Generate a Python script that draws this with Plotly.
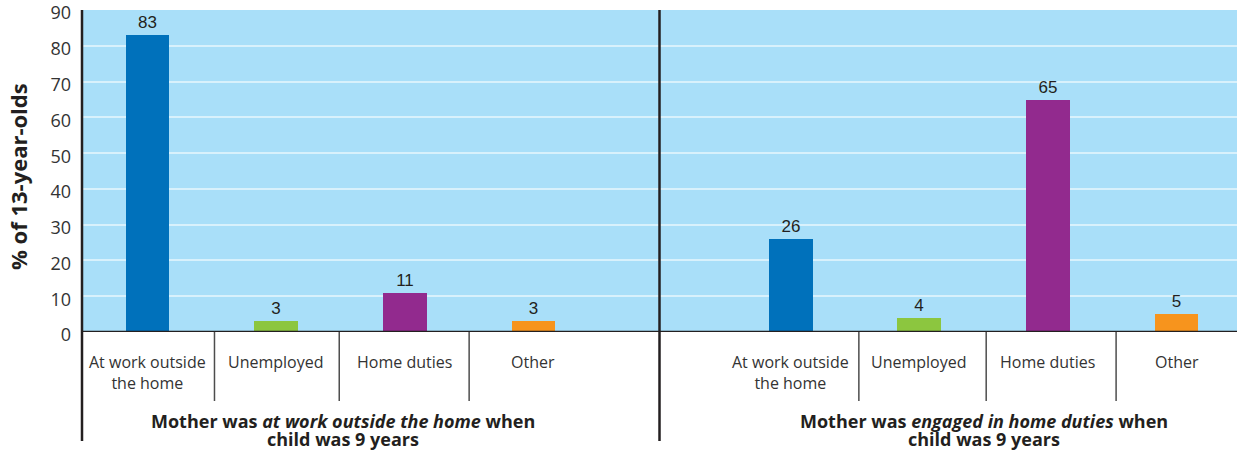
import plotly.graph_objects as go

# data
categories = ["At work outside<br>the home", "Unemployed", "Home duties", "Other"]
work_group = [83, 3, 11, 3]
home_group = [26, 4, 65, 5]
group_titles = [
    ["Mother was <i>at work outside the home</i> when", "child was 9 years"],
    ["Mother was <i>engaged in home duties</i> when", "child was 9 years"],
]
bar_colors = ["#0071bb", "#8cc63f", "#922a8e", "#f7941d"]
y_ticks = [0, 10, 20, 30, 40, 50, 60, 70, 80, 90]

left_pos = [0, 1, 2, 3]
right_pos = [5, 6, 7, 8]

W, H = 1237, 450
M_L, M_R, M_T, M_B = 82, 0, 10, 118
plot_h = H - M_T - M_B
plot_w = W - M_L - M_R


def py(px):
    # pixel y (from top) -> paper coordinate
    return (H - M_B - px) / plot_h


def pxx(px):
    return (px - M_L) / plot_w


text_color = "#231f20"

fig = go.Figure()
for pos, vals in [(left_pos, work_group), (right_pos, home_group)]:
    fig.add_trace(
        go.Bar(
            x=pos, y=vals, width=0.34,
            marker=dict(color=bar_colors, line=dict(width=0)),
            text=[str(v) for v in vals], textposition="outside",
            textfont=dict(family="Liberation Sans, Arial, sans-serif", size=17, color=text_color),
            cliponaxis=False, showlegend=False,
        )
    )

shapes = []
# zero line
shapes.append(dict(type="line", xref="paper", yref="y", x0=0, x1=1, y0=0, y1=0,
                   line=dict(color=text_color, width=2.5)))
# left axis line
shapes.append(dict(type="line", xref="paper", yref="paper", x0=0, x1=0, y0=1, y1=py(441),
                   line=dict(color=text_color, width=2.5)))
# group separator
shapes.append(dict(type="line", xref="x", yref="paper", x0=3.98, x1=3.98, y0=1, y1=py(441),
                   line=dict(color=text_color, width=2.5)))
# category separators
for sx in [0.52, 1.49, 2.5, 5.53, 6.52, 7.53]:
    shapes.append(dict(type="line", xref="x", yref="paper", x0=sx, x1=sx, y0=0, y1=py(401),
                       line=dict(color="#4d4d4d", width=1.5)))

annotations = []
for pos in (left_pos, right_pos):
    for p, c in zip(pos, categories):
        annotations.append(dict(
            x=p, y=py(349), xref="x", yref="paper", text=c, showarrow=False,
            xanchor="center", yanchor="top",
            font=dict(family="Open Sans, sans-serif", size=16, color="#333333"),
        ))
for gx, lines in zip([pxx(343), pxx(984)], group_titles):
    for yy, line in zip([421, 438.5], lines):
        annotations.append(dict(
            x=gx, y=py(yy), xref="paper", yref="paper", text="<b>" + line + "</b>",
            showarrow=False, xanchor="center", yanchor="middle",
            font=dict(family="Open Sans, sans-serif", size=18, color=text_color),
        ))
annotations.append(dict(
    x=pxx(18), y=py(177), xref="paper", yref="paper",
    text="<b>% of 13-year-olds</b>", showarrow=False, textangle=-90,
    xanchor="center", yanchor="middle",
    font=dict(family="Open Sans, sans-serif", size=22, color=text_color),
))

fig.update_layout(
    width=W, height=H,
    margin=dict(l=M_L, r=M_R, t=M_T, b=M_B),
    paper_bgcolor="white",
    plot_bgcolor="#a9dff9",
    bargap=0,
    xaxis=dict(range=[-0.51, 8.47], showticklabels=False, showgrid=False, zeroline=False,
               fixedrange=True, automargin=False),
    yaxis=dict(range=[0, 90.05], tickvals=y_ticks, showgrid=True, gridcolor="rgba(255,255,255,0.55)",
               gridwidth=2, zeroline=False, ticks="", ticklabelstandoff=10, automargin=False,
               ticklabeloverflow="allow", ticklabelshift=3,
               tickfont=dict(family="Open Sans, sans-serif", size=18, color="#333333")),
    shapes=shapes,
    annotations=annotations,
)

fig.write_html("out.html", config={"displayModeBar": False},
               post_script="document.body.style.margin='0';")
